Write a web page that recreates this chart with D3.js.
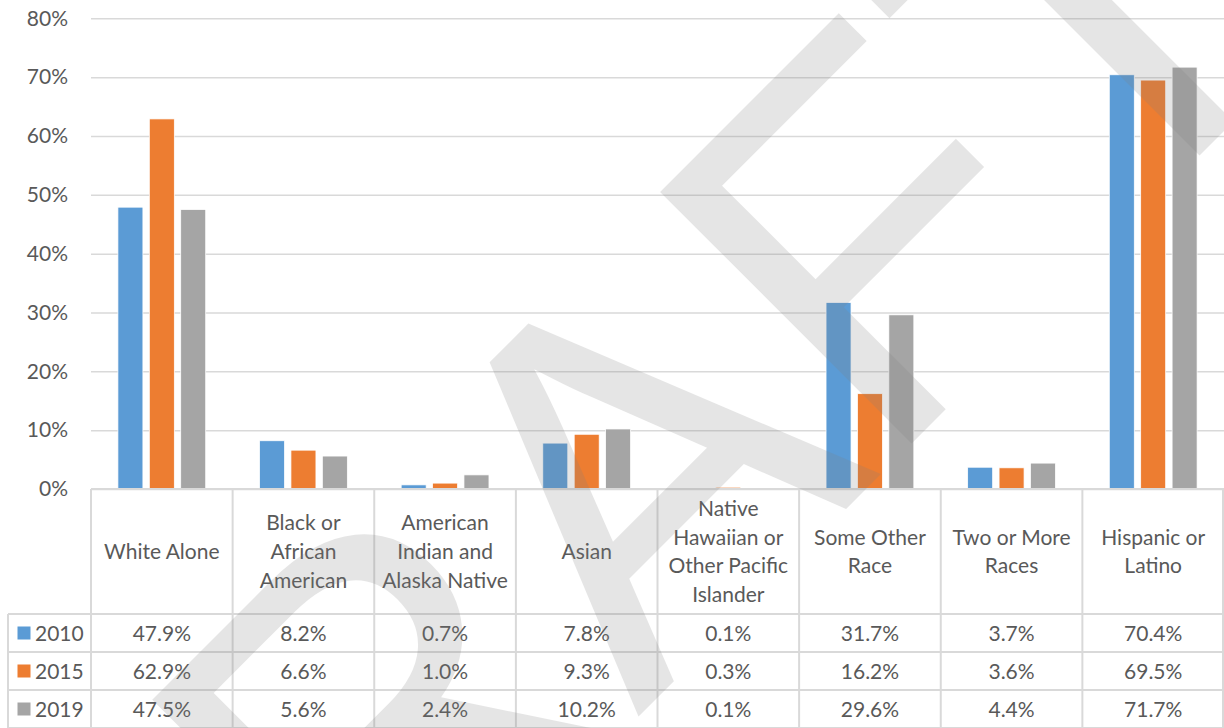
<!DOCTYPE html>
<html>
<head>
<meta charset="utf-8">
<script src="https://cdn.jsdelivr.net/npm/d3@7"></script>
<style>
  body { margin: 0; background: #fff; }
  text { font-family: Lato, "Open Sans", sans-serif; fill: #595959; }
</style>
</head>
<body>
<svg id="chart" width="1224" height="728"></svg>
<script>
// chart data
const categories = ["White Alone", "Black or African American", "American Indian and Alaska Native", "Asian",
  "Native Hawaiian or Other Pacific Islander", "Some Other Race", "Two or More Races", "Hispanic or Latino"];
const categoryLines = [["White Alone"], ["Black or", "African", "American"], ["American", "Indian and", "Alaska Native"],
  ["Asian"], ["Native", "Hawaiian or", "Other Pacific", "Islander"], ["Some Other", "Race"], ["Two or More", "Races"],
  ["Hispanic or", "Latino"]];
const years = ["2010", "2015", "2019"];
const values2010 = [47.9, 8.2, 0.7, 7.8, 0.1, 31.7, 3.7, 70.4];
const values2015 = [62.9, 6.6, 1.0, 9.3, 0.3, 16.2, 3.6, 69.5];
const values2019 = [47.5, 5.6, 2.4, 10.2, 0.1, 29.6, 4.4, 71.7];
const yTicks = [0, 10, 20, 30, 40, 50, 60, 70, 80];
const colors = ["#5b9bd5", "#ed7d31", "#a5a5a5"];

const series = [values2010, values2015, values2019];
const data = categories.map((c, i) => ({
  cat: c, vals: years.map((yr, j) => ({ year: yr, v: series[j][i], color: colors[j] }))
}));

const svg = d3.select("#chart");
const plotLeft = 91, plotRight = 1224, plotTop = 18.3, plotBottom = 489;
const rowTops = [614, 652, 690, 728];
const legendLeft = 8;
const grid = "#d9d9d9";

const x0 = d3.scaleBand().domain(categories).range([plotLeft, plotRight]).padding(0);
const x1 = d3.scaleBand().domain(years).range([0, x0.bandwidth()]).paddingInner(0.204).paddingOuter(0.857);
const y = d3.scaleLinear().domain([0, 80]).range([plotBottom, plotTop]);

// gridlines
svg.append("g")
  .attr("transform", `translate(${plotLeft},0)`)
  .call(d3.axisLeft(y).tickValues(yTicks).tickSize(-(plotRight - plotLeft)).tickFormat(""))
  .call(g => g.select(".domain").remove())
  .call(g => g.selectAll("line").attr("stroke", grid).attr("stroke-width", 1.5));

// y labels
svg.append("g")
  .attr("transform", `translate(${plotLeft},0)`)
  .call(d3.axisLeft(y).tickValues(yTicks).tickSize(0).tickPadding(23).tickFormat(d => d + "%"))
  .call(g => g.select(".domain").remove())
  .call(g => g.selectAll("text").style("font-size", "21px").attr("fill", "#595959"));

// bars
const groups = svg.append("g").selectAll("g")
  .data(data).enter().append("g")
  .attr("transform", d => `translate(${x0(d.cat)},0)`);
groups.selectAll("rect")
  .data(d => d.vals).enter().append("rect")
  .attr("x", d => x1(d.year))
  .attr("y", d => y(d.v))
  .attr("width", x1.bandwidth())
  .attr("height", d => y(0) - y(d.v))
  .attr("fill", d => d.color)
  .attr("stroke", "#fff")
  .attr("stroke-width", 0.75);

// data table
const table = svg.append("g").attr("stroke", grid).attr("stroke-width", 2);
table.append("line").attr("x1", plotLeft).attr("x2", plotRight).attr("y1", plotBottom).attr("y2", plotBottom);
rowTops.forEach(r => {
  table.append("line").attr("x1", legendLeft).attr("x2", plotRight).attr("y1", r).attr("y2", r);
});
table.append("line").attr("x1", legendLeft).attr("x2", legendLeft).attr("y1", rowTops[0]).attr("y2", 728);
categories.concat(["end"]).forEach((c, i) => {
  const xx = c === "end" ? plotRight - 1 : x0(c);
  table.append("line").attr("x1", xx).attr("x2", xx).attr("y1", plotBottom).attr("y2", 728);
});

// header labels
const lineH = 28.8;
const headerMid = (plotBottom + rowTops[0]) / 2;
categoryLines.forEach((lines, i) => {
  const cx = x0(categories[i]) + x0.bandwidth() / 2;
  const t = svg.append("text")
    .attr("text-anchor", "middle")
    .style("font-size", "21px");
  lines.forEach((ln, k) => {
    t.append("tspan")
      .attr("x", cx)
      .attr("y", headerMid + (k - (lines.length - 1) / 2) * lineH)
      .attr("dy", "0.36em")
      .text(ln);
  });
});

// value rows and legend keys
years.forEach((yr, j) => {
  const mid = (rowTops[j] + rowTops[j + 1]) / 2;
  svg.append("rect")
    .attr("x", 17.5).attr("y", mid - 6.5).attr("width", 13).attr("height", 13)
    .attr("fill", colors[j]);
  svg.append("text")
    .attr("x", 35).attr("y", mid).attr("dy", "0.36em")
    .style("font-size", "21px")
    .text(yr);
  categories.forEach((c, i) => {
    svg.append("text")
      .attr("x", x0(c) + x0.bandwidth() / 2)
      .attr("y", mid).attr("dy", "0.36em")
      .attr("text-anchor", "middle")
      .style("font-size", "21px")
      .text(series[j][i].toFixed(1) + "%");
  });
});

// DRAFT watermark
svg.append("g")
  .attr("opacity", 0.2)
  .append("text")
  .attr("transform", "translate(719,636) rotate(-45)")
  .attr("text-anchor", "middle")
  .style("font-family", "'Liberation Sans', Arial, sans-serif")
  .style("font-size", "517px")
  .style("fill", "#808080")
  .text("DRAFT");
</script>
</body>
</html>
